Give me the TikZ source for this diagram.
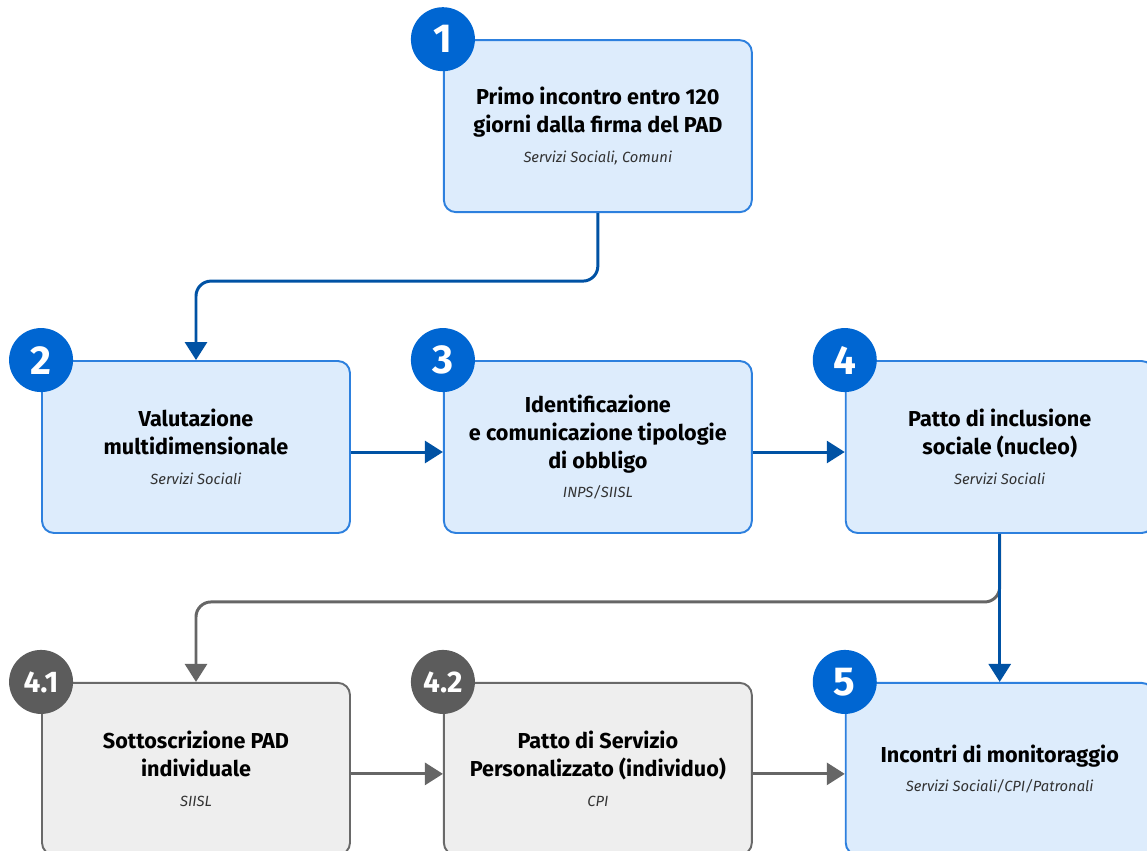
\documentclass[tikz,border=0pt]{standalone}
\usepackage{fontspec}
\setmainfont{Fira Sans}
\usetikzlibrary{positioning,arrows.meta}

\definecolor{boxfill}{RGB}{221,236,252}
\definecolor{boxline}{RGB}{45,128,222}
\definecolor{badgeblue}{RGB}{0,102,210}
\definecolor{linkblue}{RGB}{0,82,164}
\definecolor{greyfill}{RGB}{238,238,238}
\definecolor{greyline}{RGB}{105,105,105}
\definecolor{badgegrey}{RGB}{92,92,92}
\definecolor{linkgrey}{RGB}{102,102,102}
\definecolor{subtext}{RGB}{50,50,50}

\newcommand{\subline}[1]{{\fontsize{8.4}{10}\selectfont\mdseries\itshape\color{subtext}#1}}

\begin{document}
\begin{tikzpicture}[x=0.02cm,y=-0.02cm,
  box/.style={draw=boxline,fill=boxfill,line width=1.1pt,rounded corners=0.24cm,
    minimum width=6.16cm,minimum height=3.44cm,align=center,inner sep=0pt,
    font=\fontsize{12.3}{15.9}\selectfont\bfseries},
  greybox/.style={box,draw=greyline,fill=greyfill},
  badge/.style={circle,fill=badgeblue,text=white,minimum size=1.28cm,inner sep=0pt,
    font=\fontsize{23}{23}\selectfont\bfseries},
  greybadge/.style={badge,fill=badgegrey,font=\fontsize{17}{17}\selectfont\bfseries},
  link/.style={line width=1.7pt,draw=linkblue,rounded corners=0.3cm,
    -{Triangle[width=0.44cm,length=0.36cm]}},
  greylink/.style={link,draw=linkgrey}]

  \useasboundingbox (0,0) rectangle (1147,850);
  \clip (0,0) rectangle (1147,850);

  % Boxes
  \node[box] (b2) at (196,447) {Valutazione\\multidimensionale\\[1pt]\subline{Servizi Sociali}};
  \node[box,right=1.84cm of b2] (b3) {Identificazione\\e comunicazione tipologie\\di obbligo\\[1pt]\subline{INPS/SIISL}};
  \node[box,right=1.84cm of b3] (b4) {Patto di inclusione\\sociale (nucleo)\\[1pt]\subline{Servizi Sociali}};
  \node[box,above=2.94cm of b3] (b1) {Primo incontro entro 120\\giorni dalla firma del PAD\\[1pt]\subline{Servizi Sociali, Comuni}};
  \node[greybox,below=2.96cm of b2] (b41) {Sottoscrizione PAD\\individuale\\[1pt]\subline{SIISL}};
  \node[greybox,right=1.84cm of b41] (b42) {Patto di Servizio\\Personalizzato (individuo)\\[1pt]\subline{CPI}};
  \node[box,right=1.84cm of b42] (b5) {Incontri di monitoraggio\\[1pt]\subline{Servizi Sociali/CPI/Patronali}};

  % Badges
  \node[badge] (n1) at (b1.north west) {1};
  \node[badge] (n2) at (b2.north west) {2};
  \node[badge] (n3) at (b3.north west) {3};
  \node[badge] (n4) at (b4.north west) {4};
  \node[greybadge] (n41) at (b41.north west) {4.1};
  \node[greybadge] (n42) at (b42.north west) {4.2};
  \node[badge] (n5) at (b5.north west) {5};

  % Connectors
  \draw[link] (b1.south) -- ++(0,68) -| (b2.north);
  \draw[link] ([yshift=-0.1cm]b2.east) -- ([yshift=-0.1cm]b3.west);
  \draw[link] ([yshift=-0.1cm]b3.east) -- ([yshift=-0.1cm]b4.west);
  \draw[greylink] (b4.south) -- ++(0,68) -| (b41.north);
  \draw[link] (b4.south) -- (b5.north);
  \draw[greylink] ([yshift=-0.1cm]b41.east) -- ([yshift=-0.1cm]b42.west);
  \draw[greylink] ([yshift=-0.1cm]b42.east) -- ([yshift=-0.1cm]b5.west);
\end{tikzpicture}
\end{document}
